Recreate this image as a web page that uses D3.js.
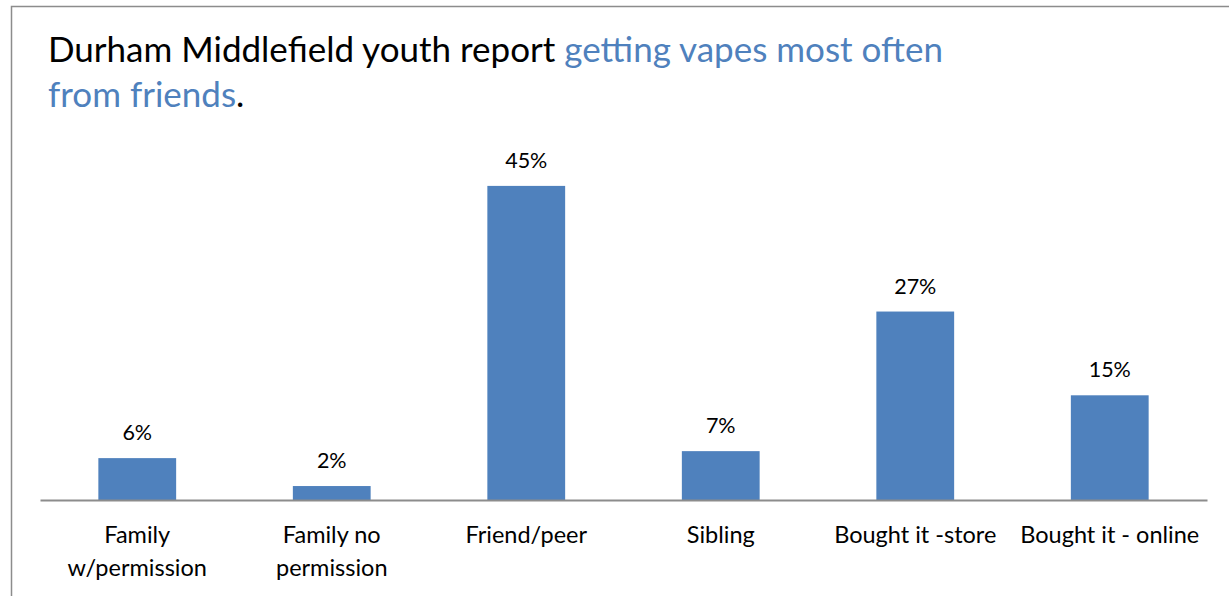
<!DOCTYPE html>
<html>
<head>
<meta charset="utf-8">
<script src="https://cdn.jsdelivr.net/npm/d3@7"></script>
<style>
  body { margin: 0; background: #fff; }
  svg { display: block; }
</style>
</head>
<body>
<svg id="chart"></svg>
<script>
const categories = [
  ['Family', 'w/permission'],
  ['Family no', 'permission'],
  ['Friend/peer'],
  ['Sibling'],
  ['Bought it -store'],
  ['Bought it - online'],
];
const values = [0.06, 0.02, 0.45, 0.07, 0.27, 0.15];
const titleBlack = 'Durham Middlefield youth report ';
const titleBlue1 = 'getting vapes most often';
const titleBlue2 = 'from friends';

const width = 1229;
const height = 596;
const font = 'Lato, Carlito, Calibri, sans-serif';
const blue = '#4F81BD';

const svg = d3.select('#chart').attr('width', width).attr('height', height);

// chart frame (runs off the right and bottom edge)
svg.append('rect')
  .attr('x', 11.5).attr('y', 6.5)
  .attr('width', 1260).attr('height', 640)
  .style('fill', 'none')
  .style('stroke', '#8c8c8c')
  .style('stroke-width', 1.5);

// title
const t1 = svg.append('text')
  .attr('x', 48).attr('y', 62)
  .attr('font-family', font).attr('font-size', '35px');
t1.append('tspan').attr('fill', '#000').text(titleBlack);
t1.append('tspan').attr('fill', blue).text(titleBlue1);

const t2 = svg.append('text')
  .attr('x', 48).attr('y', 107)
  .attr('font-family', font).attr('font-size', '35px');
t2.append('tspan').attr('fill', blue).text(titleBlue2);
t2.append('tspan').attr('fill', '#000').text('.');

const x = d3.scaleBand()
  .domain(d3.range(values.length))
  .range([40, 1207])
  .paddingInner(0.6)
  .paddingOuter(0.3);

const y = d3.scaleLinear().domain([0, 0.5]).range([500, 151]);

// bars
svg.selectAll('rect.bar')
  .data(values)
  .enter()
  .append('rect')
  .attr('class', 'bar')
  .attr('x', (d, i) => x(i))
  .attr('y', (d) => y(d))
  .attr('width', x.bandwidth())
  .attr('height', (d) => y(0) - y(d))
  .style('fill', blue);

// value labels
svg.selectAll('text.val')
  .data(values)
  .enter()
  .append('text')
  .attr('class', 'val')
  .attr('x', (d, i) => x(i) + x.bandwidth() / 2)
  .attr('y', (d) => y(d) - 18)
  .attr('text-anchor', 'middle')
  .attr('font-family', font)
  .attr('font-size', '21.5px')
  .attr('fill', '#000')
  .text((d) => d3.format('.0%')(d));

// category axis
const xAxis = d3.axisBottom(x).tickSize(0).tickFormat('');
svg.append('g')
  .attr('transform', `translate(0,${y(0)})`)
  .call(xAxis)
  .call((g) => g.select('.domain').attr('stroke', '#8c8c8c').attr('stroke-width', 2));

// category labels
categories.forEach((lines, i) => {
  const txt = svg.append('text')
    .attr('x', x(i) + x.bandwidth() / 2)
    .attr('y', 543)
    .attr('text-anchor', 'middle')
    .attr('font-family', font)
    .attr('font-size', '23.5px')
    .attr('fill', '#000');
  lines.forEach((line, j) => {
    txt.append('tspan')
      .attr('x', x(i) + x.bandwidth() / 2)
      .attr('dy', j === 0 ? 0 : 33)
      .text(line);
  });
});
</script>
</body>
</html>
